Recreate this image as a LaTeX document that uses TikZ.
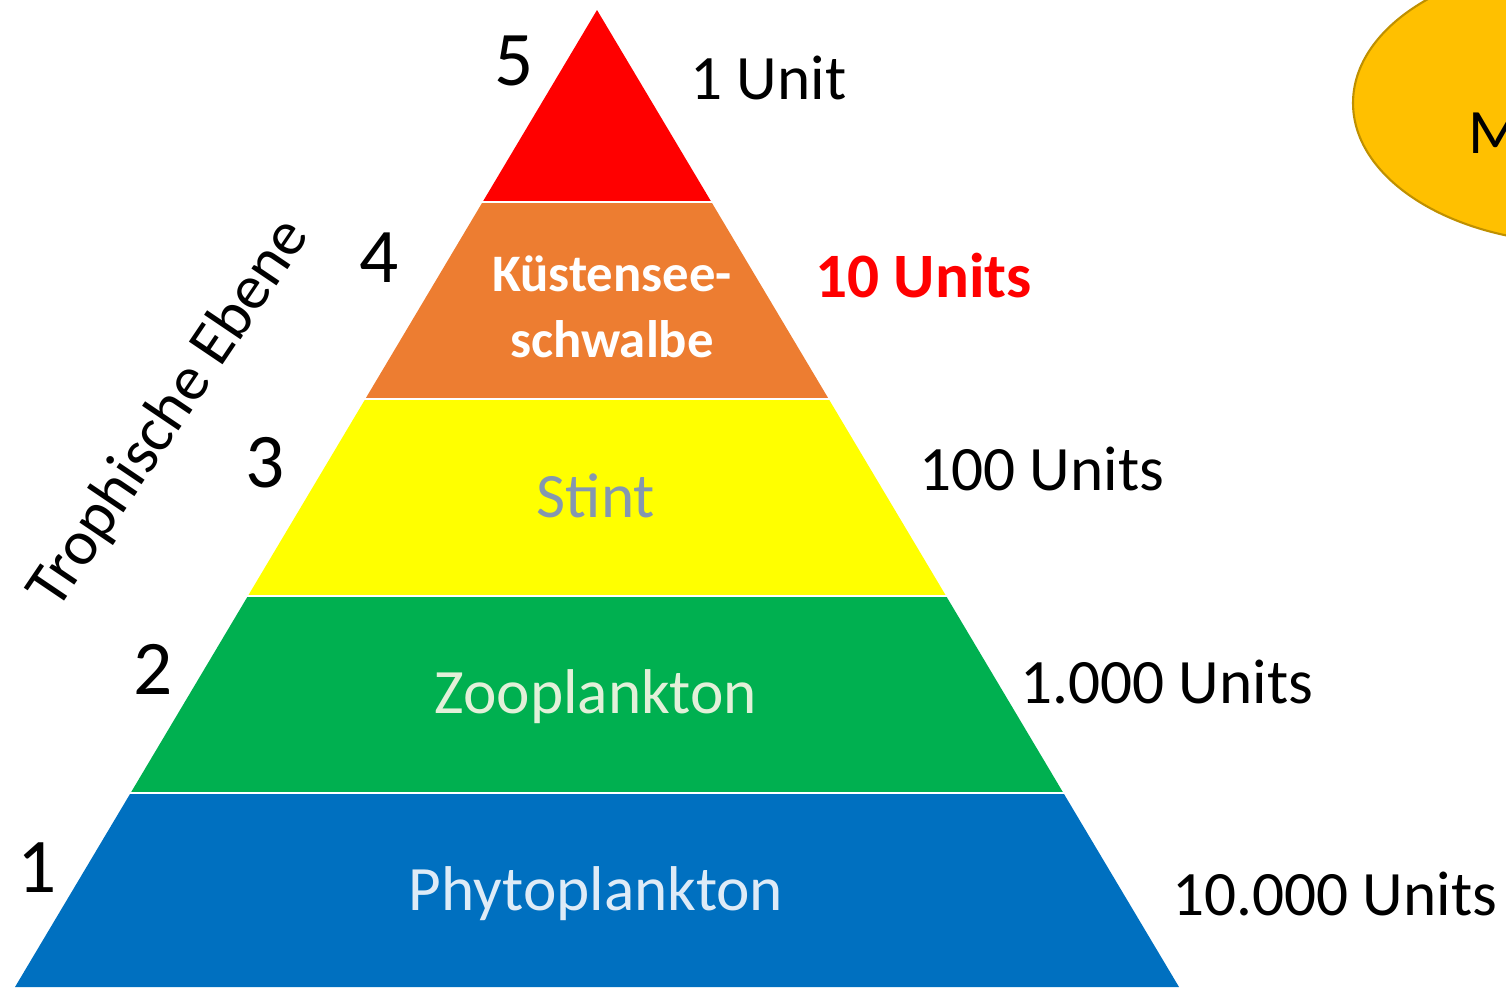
\documentclass[tikz,border=0pt]{standalone}
\usepackage{fontspec}
\setmainfont{Carlito}
\usepackage{tikz}
\usetikzlibrary{positioning,calc}

\definecolor{toprd}{HTML}{FF0000}
\definecolor{ternorange}{HTML}{ED7D31}
\definecolor{stintyellow}{HTML}{FFFF00}
\definecolor{zoogreen}{HTML}{00B050}
\definecolor{phytoblue}{HTML}{0070C0}
\definecolor{stinttext}{HTML}{8497B0}
\definecolor{zootext}{HTML}{E2F0D9}
\definecolor{phytotext}{HTML}{DEEBF7}
\definecolor{sunfill}{HTML}{FFC000}
\definecolor{sunline}{HTML}{BF9000}

\begin{document}
\begin{tikzpicture}[x=0.02cm, y=-0.02cm,
    lbl/.style={font=\fontsize{36}{43}\selectfont, inner sep=0pt},
    num/.style={font=\fontsize{44}{53}\selectfont, inner sep=0pt},
    gap/.style={draw=white, line width=1.6pt}
]
    \path[use as bounding box, clip] (0,0) rectangle (1506,987);

    % pyramid layers
    \fill[toprd] (597,10) -- (711.4,202) -- (482.6,202) -- cycle;
    \fill[ternorange] (482.6,202) -- (711.4,202) -- (828.7,399) -- (365.3,399) -- cycle;
    \fill[stintyellow] (365.3,399) -- (828.7,399) -- (946.1,596) -- (247.9,596) -- cycle;
    \fill[zoogreen] (247.9,596) -- (946.1,596) -- (1063.4,793) -- (130.6,793) -- cycle;
    \fill[phytoblue] (130.6,793) -- (1063.4,793) -- (1179,987) -- (15,987) -- cycle;
    \draw[gap] (470,202) -- (725,202);
    \draw[gap] (350,399) -- (845,399);
    \draw[gap] (235,596) -- (960,596);
    \draw[gap] (115,793) -- (1080,793);

    % names inside the layers
    \node[font=\fontsize{30}{37}\selectfont\bfseries, text=white, align=center, inner sep=0pt, anchor=base] (tern) at (612,357) {Küstensee-\\schwalbe};
    \node[lbl, text=stinttext, anchor=base] (stint) at (596,517) {Stint};
    \node[lbl, text=zootext, anchor=base] (zoo) at (596,713) {Zooplankton};
    \node[lbl, text=phytotext, anchor=base] (phyto) at (596,910) {Phytoplankton};

    % level numbers
    \node[num, anchor=base] (nfive) at (514,85) {5};
    \node[num, anchor=base] (nfour) at (379,282) {4};
    \node[num, anchor=base] (nthree) at (265,487) {3};
    \node[num, anchor=base] (ntwo) at (153,694) {2};
    \node[num, anchor=base] (none) at (37,892) {1};
    \node[lbl, rotate=56] (axis) at (170,414) {Trophische Ebene};

    % units
    \node[lbl, anchor=base west] (uone) at (690,99) {1 Unit};
    \node[lbl, font=\fontsize{36}{43}\selectfont\bfseries, text=toprd, anchor=base west] (uten) at (815,297) {10 Units};
    \node[lbl, anchor=base west] (uhund) at (919,490) {100 Units};
    \node[lbl, anchor=base west] (uthou) at (1020,703) {1.000 Units};
    \node[lbl, anchor=base west] (utenth) at (1172,915) {10.000 Units};

    % cut-off ellipse
    \draw[fill=sunfill, draw=sunline, line width=1.2pt] (1580,103) ellipse [x radius=227, y radius=140];
    \node[lbl, anchor=base west] (sunm) at (1468,153) {M};
\end{tikzpicture}
\end{document}
